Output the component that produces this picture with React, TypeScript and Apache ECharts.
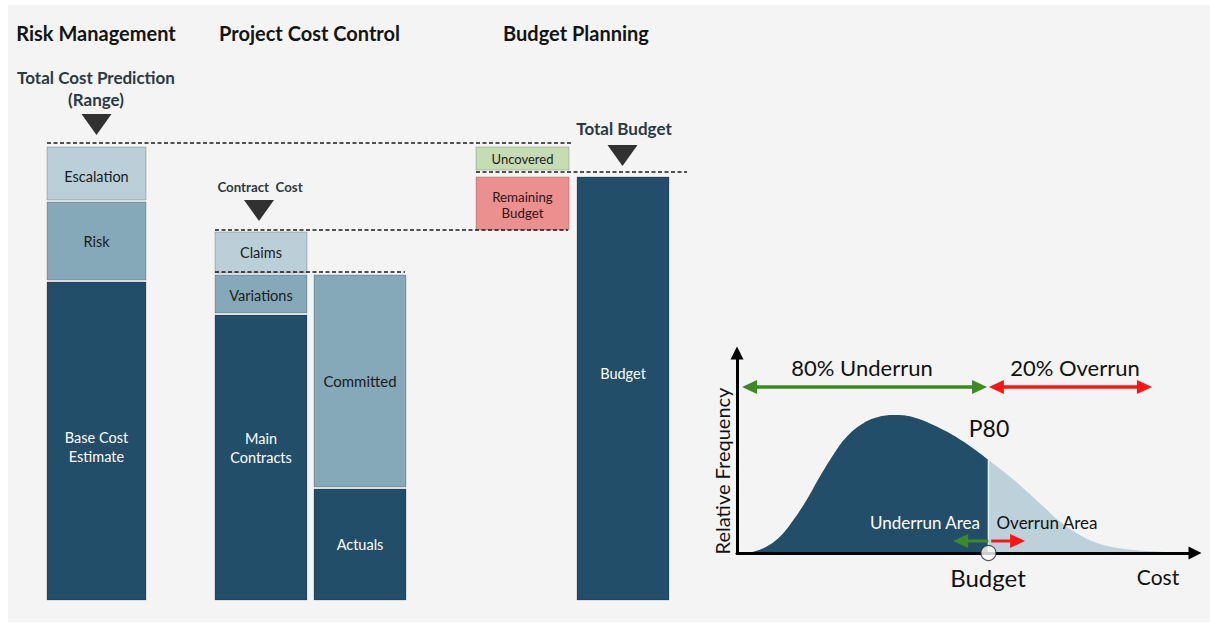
import React, { useEffect, useRef } from "react";
import * as echarts from "echarts";

const FONT = "Lato, 'Open Sans', 'DejaVu Sans', sans-serif";

// ---------- Left diagram: cost blocks (values in cost units) ----------
const BLOCK_LABELS = [
  "Base Cost\nEstimate", "Risk", "Escalation",
  "Main\nContracts", "Variations", "Claims",
  "Actuals", "Committed",
  "Remaining\nBudget", "Uncovered",
  "Budget",
];
const BLOCK_LOW = [0, 64, 80, 0, 57.4, 65.4, 0, 22.6, 74, 86, 0];
const BLOCK_HIGH = [64, 80, 91, 57.4, 65.4, 74, 22.6, 65.4, 85, 91, 85];
const BLOCK_COLUMN = [0, 0, 0, 1, 1, 1, 2, 2, 3, 3, 4];
const BLOCK_TONE = ["dark", "mid", "light", "dark", "mid", "light", "dark", "mid", "red", "green", "dark"];

// Reference levels (dashed lines)
const LEVEL_VALUES = [91.4, 85.6, 74, 65.6];

// Marker levels (triangles)
const MARKER_LEVELS = [95.1, 77.9, 88.9];

// ---------- Right diagram: cost distribution ----------
const UNDER_COST = [1.5, 3.6, 6.5, 9.4, 12.3, 15.2, 18.1, 21.0, 24.0, 27.6, 31.2, 34.5, 38.5, 43.6, 49.4, 54.9];
const UNDER_FREQ = [0, 0.65, 3.2, 8.2, 16.5, 26.5, 38.2, 49, 58.2, 64.9, 68.2, 69, 67.9, 63.2, 55.7, 46.5];
const OVER_COST = [54.9, 59.6, 63.3, 66.9, 70.5, 74.2, 77.8, 81.4, 86.5, 92.4, 97];
const OVER_FREQ = [46.5, 38.2, 30.7, 23.2, 15.7, 9.9, 5.7, 3.2, 1.5, 0.65, 0.2];
const P80_COST = 54.9;
const P80_FREQ = 46.5;

// arrows: [fromCost, fromFreq, toCost, toFreq]
const ARROW_FROM_COST = [1.1, 55.0, 54.9, 55.5];
const ARROW_TO_COST = [54.6, 90.6, 47.2, 62.9];
const ARROW_FREQ = [83, 83, 6, 6];
const ARROW_DOUBLE = [true, true, false, false];
const ARROW_COLOR = ["#3c8a22", "#ff1414", "#3c8a22", "#ff1414"];

// ---------- Layout (positions / styles) ----------
const COLUMN_SPANS = [[47, 146], [215, 307], [314, 406], [476, 569], [577, 669]];
const LEVEL_SPANS = [[47, 571], [476, 687], [215, 568], [215, 405]];
const MARKER_X = [96.5, 259, 622.5];
const BLOCK_LABEL_SHIFT = [6, 0, 3, -10, 1, 0, 0, 0, 1, 0, -15];
const BLOCK_FONT = [14.5, 14.5, 14.5, 14.5, 14.5, 14.5, 14.5, 15, 13.3, 13, 14.5];
const TONES: Record<string, { fill: string; text: string }> = {
  dark: { fill: "#234e69", text: "#ffffff" },
  mid: { fill: "#85a9b9", text: "#1b1b1b" },
  light: { fill: "#bacfd8", text: "#1b1b1b" },
  red: { fill: "#ec8f8f", text: "#2a1616" },
  green: { fill: "#c6ddb4", text: "#1b1b1b" },
};

type T = { t: string; x: number; y: number; s: number; b?: boolean; c?: string; r?: number };
const TEXTS: T[] = [
  { t: "Risk Management", x: 96, y: 33, s: 20, b: true, c: "#141414" },
  { t: "Project Cost Control", x: 309.5, y: 33, s: 20, b: true, c: "#141414" },
  { t: "Budget Planning", x: 576, y: 33, s: 20, b: true, c: "#141414" },
  { t: "Total Cost Prediction", x: 96, y: 77, s: 17, b: true, c: "#2b3945" },
  { t: "(Range)", x: 96, y: 99, s: 17, b: true, c: "#2b3945" },
  { t: "Contract  Cost", x: 260, y: 187, s: 13.3, b: true, c: "#2b3945" },
  { t: "Total Budget", x: 624, y: 128, s: 17, b: true, c: "#2b3945" },
  { t: "80% Underrun", x: 862, y: 367, s: 22, c: "#111" },
  { t: "20% Overrun", x: 1075, y: 367, s: 22, c: "#111" },
  { t: "P80", x: 989, y: 428, s: 23, c: "#111" },
  { t: "Underrun Area", x: 925, y: 522, s: 17, c: "#ffffff" },
  { t: "Overrun Area", x: 1047, y: 522, s: 17, c: "#111" },
  { t: "Budget", x: 988, y: 577, s: 24, c: "#111" },
  { t: "Cost", x: 1158, y: 576, s: 21, c: "#111" },
  { t: "Relative Frequency", x: 722, y: 471, s: 20, c: "#111", r: Math.PI / 2 },
];

function buildOption(): any {
  const blockData = BLOCK_LOW.map((lo, i) => {
    const [x0, x1] = COLUMN_SPANS[BLOCK_COLUMN[i]];
    return [x0, x1, lo, BLOCK_HIGH[i]];
  });

  const levelSeries = LEVEL_VALUES.map((v, i) => ({
    type: "line",
    xAxisIndex: 0,
    yAxisIndex: 0,
    symbol: "none",
    silent: true,
    data: [[LEVEL_SPANS[i][0], v], [LEVEL_SPANS[i][1], v]],
    lineStyle: { color: "#1a1a1a", width: 1.3, type: [4, 2.5] },
    z: 3,
  }));

  const arrowData = ARROW_FREQ.map((f, i) => [ARROW_FROM_COST[i], f, ARROW_TO_COST[i], f]);

  return {
    animation: false,
    backgroundColor: "#ffffff",
    graphic: [
      { type: "rect", z: -10, silent: true, shape: { x: 8, y: 5, width: 1202, height: 617 }, style: { fill: "#f4f4f4" } },
      ...TEXTS.map((t) => ({
        type: "text",
        z: 50,
        x: t.x,
        y: t.y,
        rotation: t.r || 0,
        style: {
          text: t.t,
          fill: t.c || "#111",
          fontSize: t.s,
          fontWeight: t.b ? "bold" : "normal",
          fontFamily: FONT,
          textAlign: "center",
          textVerticalAlign: "middle",
          align: "center",
          verticalAlign: "middle",
        },
      })),
    ],
    grid: [
      { left: 0, top: 0, width: 1210, height: 623 },
      { left: 737, top: 353, width: 458, height: 200 },
    ],
    xAxis: [
      { type: "value", gridIndex: 0, min: 0, max: 1210, show: false },
      {
        type: "value", gridIndex: 1, min: 0, max: 100, z: 10,
        axisLine: { show: true, onZero: false, symbol: ["none", "triangle"], symbolSize: [13, 13], lineStyle: { color: "#000", width: 3 } },
        axisTick: { show: false }, axisLabel: { show: false }, splitLine: { show: false },
      },
    ],
    yAxis: [
      { type: "value", gridIndex: 0, min: -4.6, max: 120, show: false },
      {
        type: "value", gridIndex: 1, min: 0, max: 100, z: 10,
        axisLine: { show: true, onZero: false, symbol: ["none", "triangle"], symbolSize: [13, 13], lineStyle: { color: "#000", width: 3 } },
        axisTick: { show: false }, axisLabel: { show: false }, splitLine: { show: false },
      },
    ],
    series: [
      {
        type: "custom",
        xAxisIndex: 0,
        yAxisIndex: 0,
        silent: true,
        z: 2,
        encode: { x: [0, 1], y: [2, 3] },
        data: blockData,
        renderItem: (params: any, api: any) => {
          const i = params.dataIndex;
          const tl = api.coord([api.value(0), api.value(3)]);
          const br = api.coord([api.value(1), api.value(2)]);
          const y0 = tl[1] + 2;
          const h = br[1] - y0;
          const tone = TONES[BLOCK_TONE[i]];
          return {
            type: "group",
            children: [
              {
                type: "rect",
                shape: { x: tl[0], y: y0, width: br[0] - tl[0], height: h },
                style: { fill: tone.fill, stroke: "rgba(0,0,0,0.2)", lineWidth: 1 },
              },
              {
                type: "text",
                style: {
                  text: BLOCK_LABELS[i],
                  x: (tl[0] + br[0]) / 2,
                  y: y0 + h / 2 + BLOCK_LABEL_SHIFT[i],
                  align: "center",
                  verticalAlign: "middle",
                  fill: tone.text,
                  fontSize: BLOCK_FONT[i],
                  fontFamily: FONT,
                  lineHeight: BLOCK_FONT[i] < 14 ? 16 : 19,
                },
              },
            ],
          };
        },
      },
      ...levelSeries,
      {
        type: "scatter",
        xAxisIndex: 0,
        yAxisIndex: 0,
        silent: true,
        symbol: "triangle",
        symbolRotate: 180,
        symbolSize: [30, 21],
        itemStyle: { color: "#000" },
        data: MARKER_LEVELS.map((v, i) => [MARKER_X[i], v]),
        z: 4,
      },
      {
        type: "line",
        xAxisIndex: 1,
        yAxisIndex: 1,
        smooth: 0.4,
        symbol: "none",
        silent: true,
        lineStyle: { width: 0, color: "#234e69" },
        areaStyle: { color: "#234e69", opacity: 1 },
        data: UNDER_COST.map((c, i) => [c, UNDER_FREQ[i]]),
        z: 2,
      },
      {
        type: "line",
        xAxisIndex: 1,
        yAxisIndex: 1,
        smooth: 0.4,
        symbol: "none",
        silent: true,
        lineStyle: { width: 0, color: "#bcd1da" },
        areaStyle: { color: "#bcd1da", opacity: 1 },
        data: OVER_COST.map((c, i) => [c, OVER_FREQ[i]]),
        z: 2,
      },
      {
        type: "line",
        xAxisIndex: 1,
        yAxisIndex: 1,
        symbol: "none",
        silent: true,
        lineStyle: { width: 1.5, color: "#e8eff2" },
        data: [[P80_COST, 0], [P80_COST, P80_FREQ]],
        z: 3,
      },
      {
        type: "custom",
        xAxisIndex: 1,
        yAxisIndex: 1,
        silent: true,
        z: 6,
        encode: { x: [0, 2], y: [1, 3] },
        data: arrowData,
        renderItem: (params: any, api: any) => {
          const i = params.dataIndex;
          const a = api.coord([api.value(0), api.value(1)]);
          const b = api.coord([api.value(2), api.value(3)]);
          const color = ARROW_COLOR[i];
          const dx = b[0] - a[0];
          const dy = b[1] - a[1];
          const len = Math.sqrt(dx * dx + dy * dy) || 1;
          const ux = dx / len;
          const uy = dy / len;
          const hl = 15;
          const hw = 7;
          const head = (tip: number[], dirx: number, diry: number) => {
            const bx = tip[0] - dirx * hl;
            const by = tip[1] - diry * hl;
            return {
              type: "polygon",
              shape: { points: [tip, [bx - diry * hw, by + dirx * hw], [bx + diry * hw, by - dirx * hw]] },
              style: { fill: color },
            };
          };
          const start = ARROW_DOUBLE[i] ? [a[0] + ux * (hl - 2), a[1] + uy * (hl - 2)] : a;
          const end = [b[0] - ux * (hl - 2), b[1] - uy * (hl - 2)];
          const children: any[] = [
            { type: "line", shape: { x1: start[0], y1: start[1], x2: end[0], y2: end[1] }, style: { stroke: color, lineWidth: i < 2 ? 3.5 : 3 } },
            head(b, ux, uy),
          ];
          if (ARROW_DOUBLE[i]) children.push(head(a, -ux, -uy));
          return { type: "group", children };
        },
      },
      {
        type: "scatter",
        xAxisIndex: 1,
        yAxisIndex: 1,
        silent: true,
        symbol: "circle",
        symbolSize: 15,
        itemStyle: { color: "#ffffff", borderColor: "#333", borderWidth: 1.2 },
        data: [[P80_COST, 0]],
        z: 20,
      },
    ],
  };
}

export default function App() {
  const ref = useRef<HTMLDivElement>(null);
  useEffect(() => {
    if (!ref.current) return;
    const chart = echarts.init(ref.current, null, { renderer: "svg" });
    chart.setOption(buildOption());
    return () => chart.dispose();
  }, []);
  return (
    <div
      ref={ref}
      style={{ position: "absolute", left: 0, top: 0, width: 1210, height: 623 }}
    />
  );
}
